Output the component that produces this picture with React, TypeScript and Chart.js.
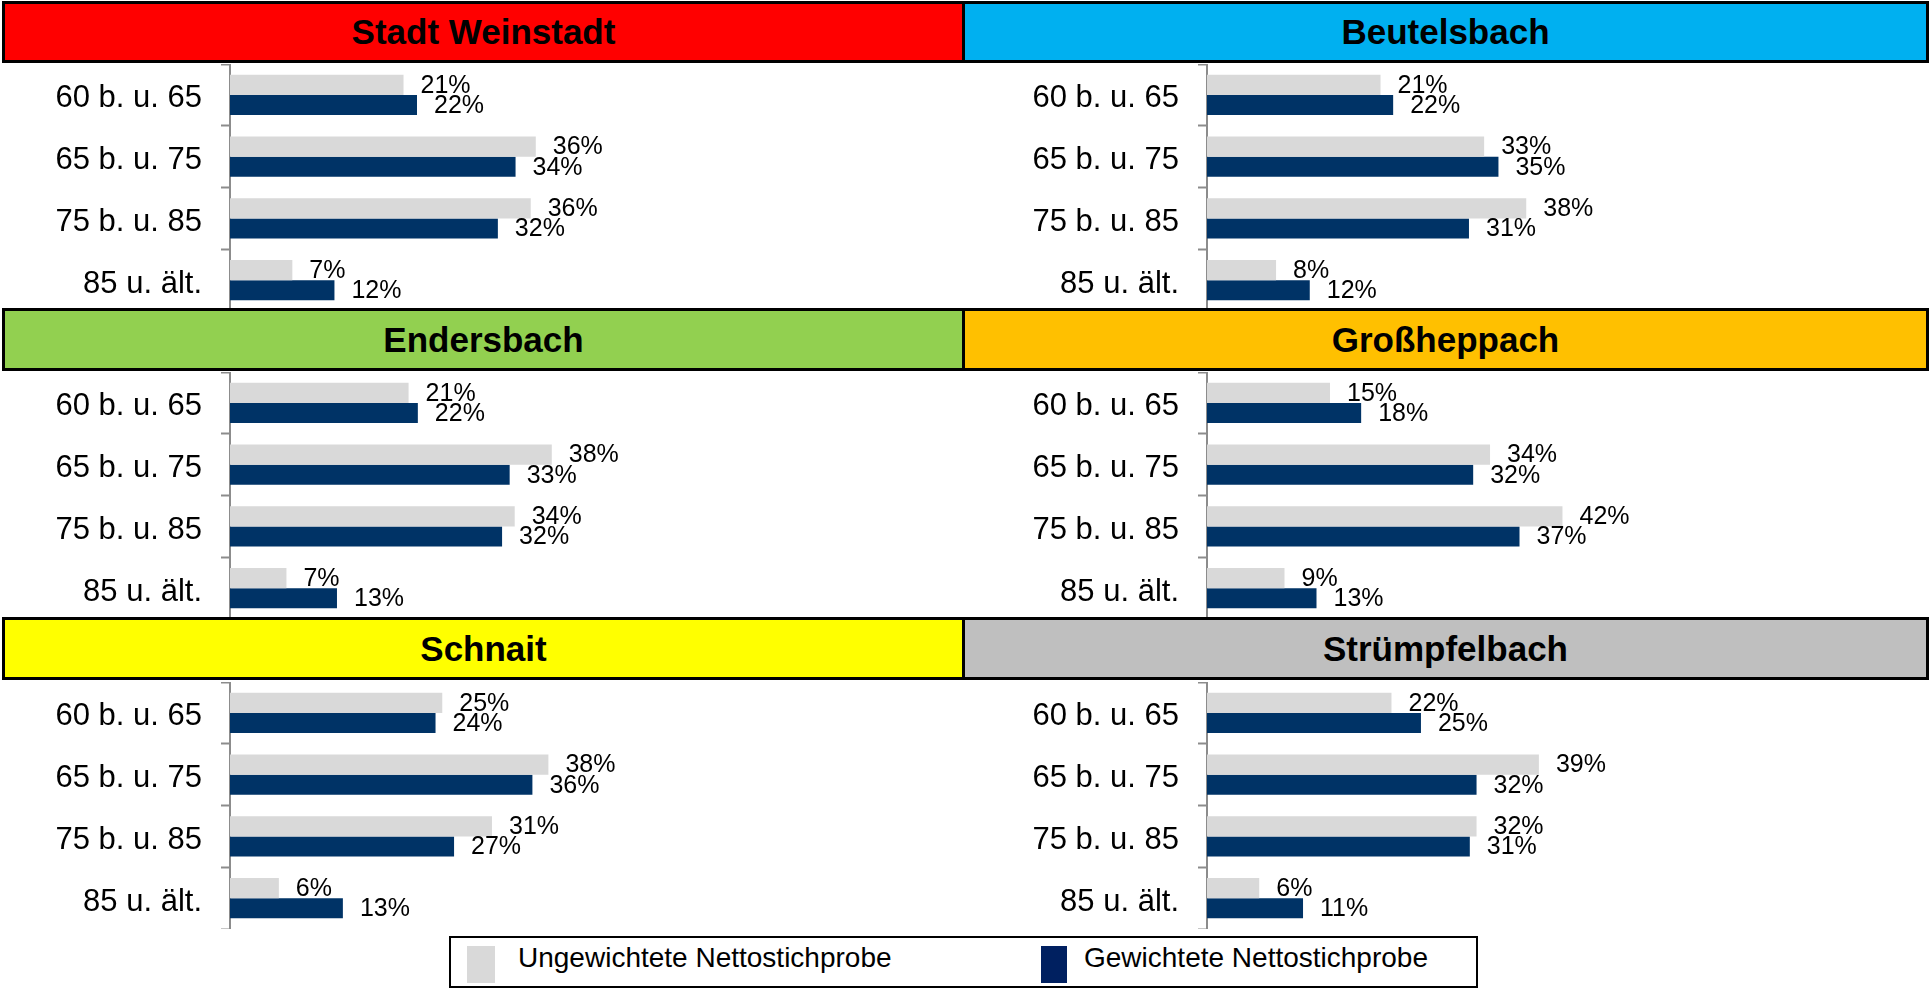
import React, { useEffect, useRef } from 'react';
import { Chart, registerables } from 'chart.js';

Chart.register(...registerables);

// ---------- data ----------
const CATEGORIES = ['60 b. u. 65', '65 b. u. 75', '75 b. u. 85', '85 u. ält.'];
const LEGEND_LABELS = ['Ungewichtete Nettostichprobe', 'Gewichtete Nettostichprobe'];

const weinstadtUngewichtet = [20.6, 36.3, 35.7, 7.4];
const weinstadtGewichtet = [22.2, 33.9, 31.8, 12.4];
const beutelsbachUngewichtet = [20.6, 32.9, 37.9, 8.2];
const beutelsbachGewichtet = [22.1, 34.6, 31.1, 12.2];
const endersbachUngewichtet = [21.2, 38.2, 33.8, 6.7];
const endersbachGewichtet = [22.3, 33.2, 32.3, 12.7];
const grossheppachUngewichtet = [14.6, 33.6, 42.2, 9.2];
const grossheppachGewichtet = [18.3, 31.6, 37.1, 13.0];
const schnaitUngewichtet = [25.2, 37.8, 31.1, 5.8];
const schnaitGewichtet = [24.4, 35.9, 26.6, 13.4];
const struempfelbachUngewichtet = [21.9, 39.4, 32.0, 6.2];
const struempfelbachGewichtet = [25.4, 32.0, 31.2, 11.4];

const PANEL_TITLES = ['Stadt Weinstadt', 'Beutelsbach', 'Endersbach', 'Großheppach', 'Schnait', 'Strümpfelbach'];
const PANEL_COLORS = ['#FF0000', '#00B0F0', '#92D050', '#FFC000', '#FFFF00', '#BFBFBF'];
const PANEL_UNWEIGHTED = [weinstadtUngewichtet, beutelsbachUngewichtet, endersbachUngewichtet, grossheppachUngewichtet, schnaitUngewichtet, struempfelbachUngewichtet];
const PANEL_WEIGHTED = [weinstadtGewichtet, beutelsbachGewichtet, endersbachGewichtet, grossheppachGewichtet, schnaitGewichtet, struempfelbachGewichtet];

// ---------- style / layout ----------
const FONT = "'Liberation Sans', Arial, sans-serif";
const LIGHT = '#D9D9D9';
const DARK = '#003366';
const LEGEND_DARK = '#002060';
const AXIS_GRAY = '#8C8C8C';

const COLS = [
  { left: 0, width: 963, axisWidth: 230, padRight: 17, headerLeft: 2, headerWidth: 963 },
  { left: 963, width: 968, axisWidth: 244, padRight: 8, headerLeft: 962, headerWidth: 967 },
];
const ROWS = [
  { headerTop: 1, headerHeight: 62, plotTop: 64, plotHeight: 247 },
  { headerTop: 308, headerHeight: 63, plotTop: 372, plotHeight: 247 },
  { headerTop: 617, headerHeight: 63, plotTop: 682, plotHeight: 247 },
];

const valueLabelPlugin = {
  id: 'valueLabels',
  afterDatasetsDraw(chart: any) {
    const ctx = chart.ctx;
    ctx.save();
    ctx.font = `25px ${FONT}`;
    ctx.fillStyle = '#000';
    ctx.textAlign = 'left';
    ctx.textBaseline = 'middle';
    chart.data.datasets.forEach((ds: any, i: number) => {
      const meta = chart.getDatasetMeta(i);
      meta.data.forEach((bar: any, j: number) => {
        ctx.fillText(`${Math.round(ds.data[j])}%`, bar.x + 17, bar.y + 1);
      });
    });
    ctx.restore();
  },
};

function PanelChart({ index }: { index: number }) {
  const ref = useRef<HTMLCanvasElement>(null);
  const col = COLS[index % 2];
  const row = ROWS[Math.floor(index / 2)];

  useEffect(() => {
    const chart = new Chart(ref.current as HTMLCanvasElement, {
      type: 'bar',
      data: {
        labels: CATEGORIES,
        datasets: [
          {
            label: LEGEND_LABELS[0],
            data: PANEL_UNWEIGHTED[index],
            backgroundColor: LIGHT,
            categoryPercentage: 0.65,
            barPercentage: 1,
          },
          {
            label: LEGEND_LABELS[1],
            data: PANEL_WEIGHTED[index],
            backgroundColor: DARK,
            categoryPercentage: 0.65,
            barPercentage: 1,
          },
        ],
      },
      options: {
        indexAxis: 'y',
        responsive: false,
        animation: false,
        devicePixelRatio: 1,
        layout: { padding: { left: 0, right: col.padRight, top: 0, bottom: 0 } },
        plugins: { legend: { display: false }, tooltip: { enabled: false } },
        scales: {
          x: { display: false, min: 0, max: 85 },
          y: {
            offset: true,
            grid: {
              offset: true,
              drawOnChartArea: false,
              drawTicks: true,
              tickLength: 9,
              tickColor: AXIS_GRAY,
              tickWidth: 2,
            },
            border: { display: true, color: AXIS_GRAY, width: 2 },
            ticks: { color: '#000', font: { family: FONT, size: 31 }, padding: 19, labelOffset: 4 },
            afterFit: (scale: any) => {
              scale.width = col.axisWidth;
              scale.paddingTop = 0;
              scale.paddingBottom = 0;
            },
          },
        },
      } as any,
      plugins: [valueLabelPlugin],
    });
    return () => chart.destroy();
  }, []);

  return (
    <canvas
      ref={ref}
      width={col.width}
      height={row.plotHeight}
      style={{
        position: 'absolute',
        left: col.left,
        top: row.plotTop,
        width: col.width,
        height: row.plotHeight,
      }}
    />
  );
}

function PanelHeader({ index }: { index: number }) {
  const col = COLS[index % 2];
  const row = ROWS[Math.floor(index / 2)];
  return (
    <div
      style={{
        position: 'absolute',
        left: col.headerLeft,
        top: row.headerTop,
        width: col.headerWidth,
        height: row.headerHeight,
        boxSizing: 'border-box',
        border: '3px solid #000',
        background: PANEL_COLORS[index],
        display: 'flex',
        alignItems: 'center',
        justifyContent: 'center',
        fontFamily: FONT,
        fontWeight: 'bold',
        fontSize: 35,
        color: '#000',
      }}
    >
      {PANEL_TITLES[index]}
    </div>
  );
}

export default function App() {
  const idx = [0, 1, 2, 3, 4, 5];
  return (
    <div
      style={{
        position: 'absolute',
        left: 0,
        top: 0,
        width: 1931,
        height: 990,
        background: '#fff',
        overflow: 'hidden',
      }}
    >
      {idx.map((i) => (
        <PanelChart key={`c${i}`} index={i} />
      ))}
      {idx.map((i) => (
        <PanelHeader key={`h${i}`} index={i} />
      ))}
      <div
        style={{
          position: 'absolute',
          left: 449,
          top: 936,
          width: 1029,
          height: 52,
          boxSizing: 'border-box',
          border: '2px solid #000',
          background: '#fff',
        }}
      />
      <div style={{ position: 'absolute', left: 467, top: 946, width: 28, height: 37, background: LIGHT }} />
      <div
        style={{
          position: 'absolute',
          left: 518,
          top: 944,
          fontFamily: FONT,
          fontSize: 28,
          lineHeight: '28px',
          color: '#000',
          whiteSpace: 'nowrap',
        }}
      >
        {LEGEND_LABELS[0]}
      </div>
      <div style={{ position: 'absolute', left: 1041, top: 946, width: 26, height: 37, background: LEGEND_DARK }} />
      <div
        style={{
          position: 'absolute',
          left: 1084,
          top: 944,
          fontFamily: FONT,
          fontSize: 28,
          lineHeight: '28px',
          color: '#000',
          whiteSpace: 'nowrap',
        }}
      >
        {LEGEND_LABELS[1]}
      </div>
    </div>
  );
}
